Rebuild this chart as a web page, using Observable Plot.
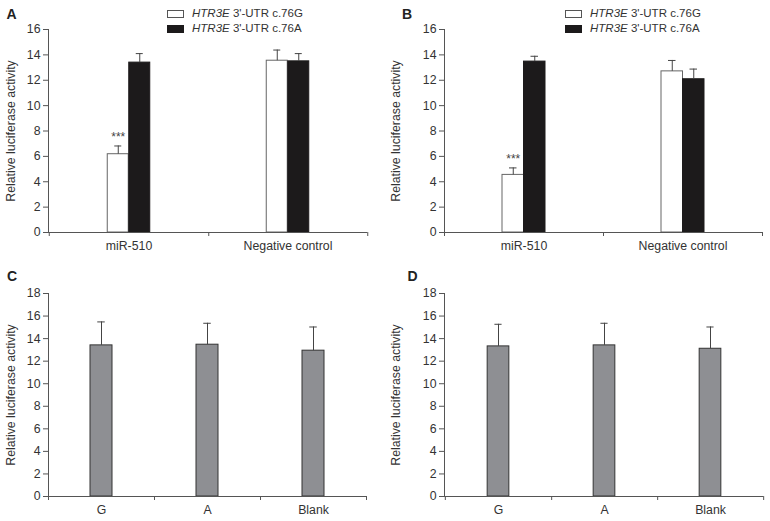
<!DOCTYPE html>
<html><head><meta charset="utf-8">
<script src="https://cdn.jsdelivr.net/npm/d3@7"></script>
<script src="https://cdn.jsdelivr.net/npm/@observablehq/plot@0.6"></script>
<style>
body{margin:0;background:#fff;}
#wrap{position:relative;width:770px;height:521px;font-family:"Liberation Sans",Arial,sans-serif;color:#333;}
.panel{position:absolute;}
.letter{position:absolute;font-weight:bold;font-size:14px;line-height:1;color:#222;}
.legend{position:absolute;font-size:11.5px;color:#333;line-height:1;}
.legend .row{position:absolute;left:0;white-space:nowrap;display:flex;align-items:center;height:14px;}
.legend .sw{width:15px;height:6px;border:1px solid #555;margin-right:8px;}
</style></head><body><div id="wrap"></div>
<script>
// ---- data ----
const groupCategories = ["miR-510", "Negative control"];
const seriesNames = ["HTR3E 3'-UTR c.76G", "HTR3E 3'-UTR c.76A"];
const aG = [6.17, 13.54], aGErr = [0.65, 0.84];
const aA = [13.39, 13.49], aAErr = [0.71, 0.61];
const bG = [4.54, 12.70], bGErr = [0.55, 0.86];
const bA = [13.47, 12.08], bAErr = [0.42, 0.80];
const alleleCategories = ["G", "A", "Blank"];
const cValues = [13.40, 13.46, 12.93], cErr = [2.08, 1.90, 2.10];
const dValues = [13.31, 13.40, 13.10], dErr = [1.96, 1.96, 1.93];
const yTicksTop = [0, 2, 4, 6, 8, 10, 12, 14, 16];
const yTicksBottom = [0, 2, 4, 6, 8, 10, 12, 14, 16, 18];
const starLabel = "***";
const yLabel = "Relative luciferase activity";

const wrap = document.getElementById("wrap");

function panel({cats, series, yDomain, yTicks, left, top, width, height, mL, mR, mT, mB, barW, capW, stars}) {
  const bw = (width - mL - mR) / cats.length;
  const axisColor = "#555";
  const marks = [];
  for (const s of series) {
    const rows = cats.map((c, i) => ({cat: c, v: s.values[i], e: s.errs[i]}));
    marks.push(Plot.barY(rows, {x: "cat", y: "v", fill: s.fill, stroke: s.stroke, strokeWidth: 1,
      insetLeft: bw / 2 - barW / 2 + s.off * barW, insetRight: bw / 2 - barW / 2 - s.off * barW}));
    marks.push(Plot.ruleX(rows, {x: "cat", y1: "v", y2: d => d.v + d.e, dx: s.off * barW, stroke: "#444", strokeWidth: 1}));
    marks.push(Plot.tickY(rows, {x: "cat", y: d => d.v + d.e, dx: s.off * barW, stroke: "#444", strokeWidth: 1,
      insetLeft: (bw - capW) / 2, insetRight: (bw - capW) / 2}));
    if (stars && s.stars) {
      const sr = rows.filter(r => r.cat === stars);
      marks.push(Plot.text(sr, {x: "cat", y: d => d.v + d.e, text: () => starLabel, dx: s.off * barW, dy: -9, fill: "#444", fontSize: 12}));
    }
  }
  marks.push(Plot.ruleY([0], {stroke: axisColor}));
  marks.push(Plot.frame({anchor: "left", stroke: axisColor}));
  marks.push(Plot.ruleX(cats, {x: d => d, y1: 0, y2: 0, insetBottom: -4, dx: bw / 2, stroke: axisColor}));
  marks.push(Plot.ruleX([cats[0]], {x: d => d, y1: 0, y2: 0, insetBottom: -4, dx: -bw / 2, stroke: axisColor}));
  marks.push(Plot.axisY({ticks: yTicks, tickSize: 5, tickPadding: 3, stroke: axisColor, label: yLabel,
    labelAnchor: "center", labelArrow: "none", labelOffset: mL - 6, fill: "#333"}));
  marks.push(Plot.axisX({tickSize: 0, tickPadding: 9, label: null, fill: "#333"}));
  const chart = Plot.plot({
    width, height, marginLeft: mL, marginRight: mR, marginTop: mT, marginBottom: mB,
    x: {type: "band", domain: cats, padding: 0},
    y: {domain: yDomain},
    style: {fontFamily: "'Liberation Sans', Arial, sans-serif", fontSize: "12.3px", color: "#333", background: "transparent"},
    marks
  });
  chart.classList.add("panel");
  chart.style.left = left + "px";
  chart.style.top = top + "px";
  wrap.appendChild(chart);
}

function letter(t, x, y) {
  const d = document.createElement("div");
  d.className = "letter"; d.textContent = t;
  d.style.left = x + "px"; d.style.top = y + "px";
  wrap.appendChild(d);
}

function legend(x, y) {
  const lg = document.createElement("div");
  lg.className = "legend";
  lg.style.left = x + "px"; lg.style.top = y + "px";
  const fills = ["#fff", "#1c1a1b"];
  seriesNames.forEach((name, i) => {
    const row = document.createElement("div");
    row.className = "row";
    row.style.top = (i * 15) + "px";
    const sw = document.createElement("span");
    sw.className = "sw"; sw.style.background = fills[i];
    if (i === 1) sw.style.borderColor = "#1c1a1b";
    const [gene, ...rest] = name.split(" ");
    const t = document.createElement("span");
    const it = document.createElement("i"); it.textContent = gene;
    t.appendChild(it); t.appendChild(document.createTextNode(" " + rest.join(" ")));
    row.appendChild(sw); row.appendChild(t);
    lg.appendChild(row);
  });
  wrap.appendChild(lg);
}

const grouped = (g, ge, a, ae) => [
  {values: g, errs: ge, fill: "#fff", stroke: "#666", off: -0.5, stars: true},
  {values: a, errs: ae, fill: "#1c1a1b", stroke: "#1c1a1b", off: 0.5}
];

panel({cats: groupCategories, series: grouped(aG, aGErr, aA, aAErr), yDomain: [0, 16], yTicks: yTicksTop,
  left: 0, top: 0, width: 385, height: 258, mL: 48, mR: 18, mT: 29, mB: 26, barW: 21.5, capW: 7.5, stars: "miR-510"});
panel({cats: groupCategories, series: grouped(bG, bGErr, bA, bAErr), yDomain: [0, 16], yTicks: yTicksTop,
  left: 385, top: 0, width: 385, height: 258, mL: 59, mR: 8, mT: 29, mB: 26, barW: 21.5, capW: 7.5, stars: "miR-510"});
panel({cats: alleleCategories, series: [{values: cValues, errs: cErr, fill: "#8e8f93", stroke: "#333", off: 0}],
  yDomain: [0, 18], yTicks: yTicksBottom,
  left: 0, top: 255, width: 385, height: 266, mL: 48, mR: 19, mT: 38, mB: 25, barW: 22, capW: 7.5});
panel({cats: alleleCategories, series: [{values: dValues, errs: dErr, fill: "#8e8f93", stroke: "#333", off: 0}],
  yDomain: [0, 18], yTicks: yTicksBottom,
  left: 385, top: 255, width: 385, height: 266, mL: 59, mR: 7, mT: 38, mB: 25, barW: 22, capW: 7.5});

letter("A", 6.5, 6.5);
letter("B", 402, 6.5);
letter("C", 7, 269);
letter("D", 407.5, 269);
legend(167, 7);
legend(565, 7);
</script></body></html>
